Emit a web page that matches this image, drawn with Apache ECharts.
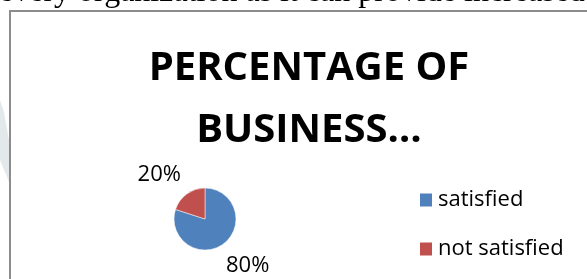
<!DOCTYPE html>
<html>
<head>
<meta charset="utf-8">
<script src="https://cdn.jsdelivr.net/npm/echarts@6/dist/echarts.min.js"></script>
<style>
  html, body { margin: 0; padding: 0; background: #fff; }
  #chart { width: 587px; height: 279px; }
</style>
</head>
<body>
<div id="chart"></div>
<script>
// Pie chart of business satisfaction, as pasted from a document
var categories = ['satisfied', 'not satisfied'];
var values = [80, 20];
var colors = ['#4F81BD', '#C0504D'];
var titleText = 'PERCENTAGE OF\nBUSINESS…';
var pageText = 'every organization as it can provide increased';

var chartDom = document.getElementById('chart');
var myChart = echarts.init(chartDom);

var pieData = categories.map(function (name, i) {
  return { name: name, value: values[i], itemStyle: { color: colors[i] } };
});

// nudge the outside labels toward where Excel puts them
var labelShift = [[-11, 10], [8, -7]];

var option = {
  animation: false,
  graphic: [
    {
      // faint page watermark peeking out on the left
      type: 'polygon',
      shape: { points: [[0, 100], [4, 112], [9, 140], [9, 182], [0, 160]] },
      style: { fill: '#e3e8eb' }
    },
    {
      type: 'text',
      left: -1,
      top: -23,
      style: {
        text: pageText,
        font: '32px "Liberation Serif"',
        fill: '#000'
      }
    },
    {
      type: 'rect',
      shape: { x: 10, y: 11, width: 640, height: 320 },
      style: { fill: 'none', stroke: '#8c8c8c', lineWidth: 2 }
    }
  ],
  title: {
    text: titleText,
    left: 304,
    top: 33,
    textAlign: 'center',
    textStyle: {
      fontFamily: 'Open Sans',
      fontWeight: 'bold',
      fontSize: 40,
      lineHeight: 62,
      color: '#000'
    }
  },
  legend: {
    orient: 'vertical',
    left: 413,
    top: 184,
    icon: 'rect',
    itemWidth: 14,
    itemHeight: 15,
    itemGap: 27,
    textStyle: {
      fontFamily: 'Open Sans',
      fontSize: 22,
      lineHeight: 22,
      color: '#000'
    },
    data: categories
  },
  series: [{
    type: 'pie',
    center: [205, 219],
    radius: 31,
    startAngle: 90,
    clockwise: true,
    data: pieData,
    itemStyle: { borderColor: '#fff', borderWidth: 0.5 },
    label: {
      show: true,
      position: 'outside',
      formatter: '{d}%',
      fontFamily: 'Open Sans',
      fontSize: 22,
      color: '#000'
    },
    labelLine: { show: false, length: 15, length2: 0 },
    labelLayout: function (params) {
      var s = labelShift[params.dataIndex];
      return { dx: s[0], dy: s[1] };
    },
    emphasis: { disabled: true }
  }]
};
myChart.setOption(option);
window.addEventListener('resize', function () { myChart.resize(); });
</script>
</body>
</html>
